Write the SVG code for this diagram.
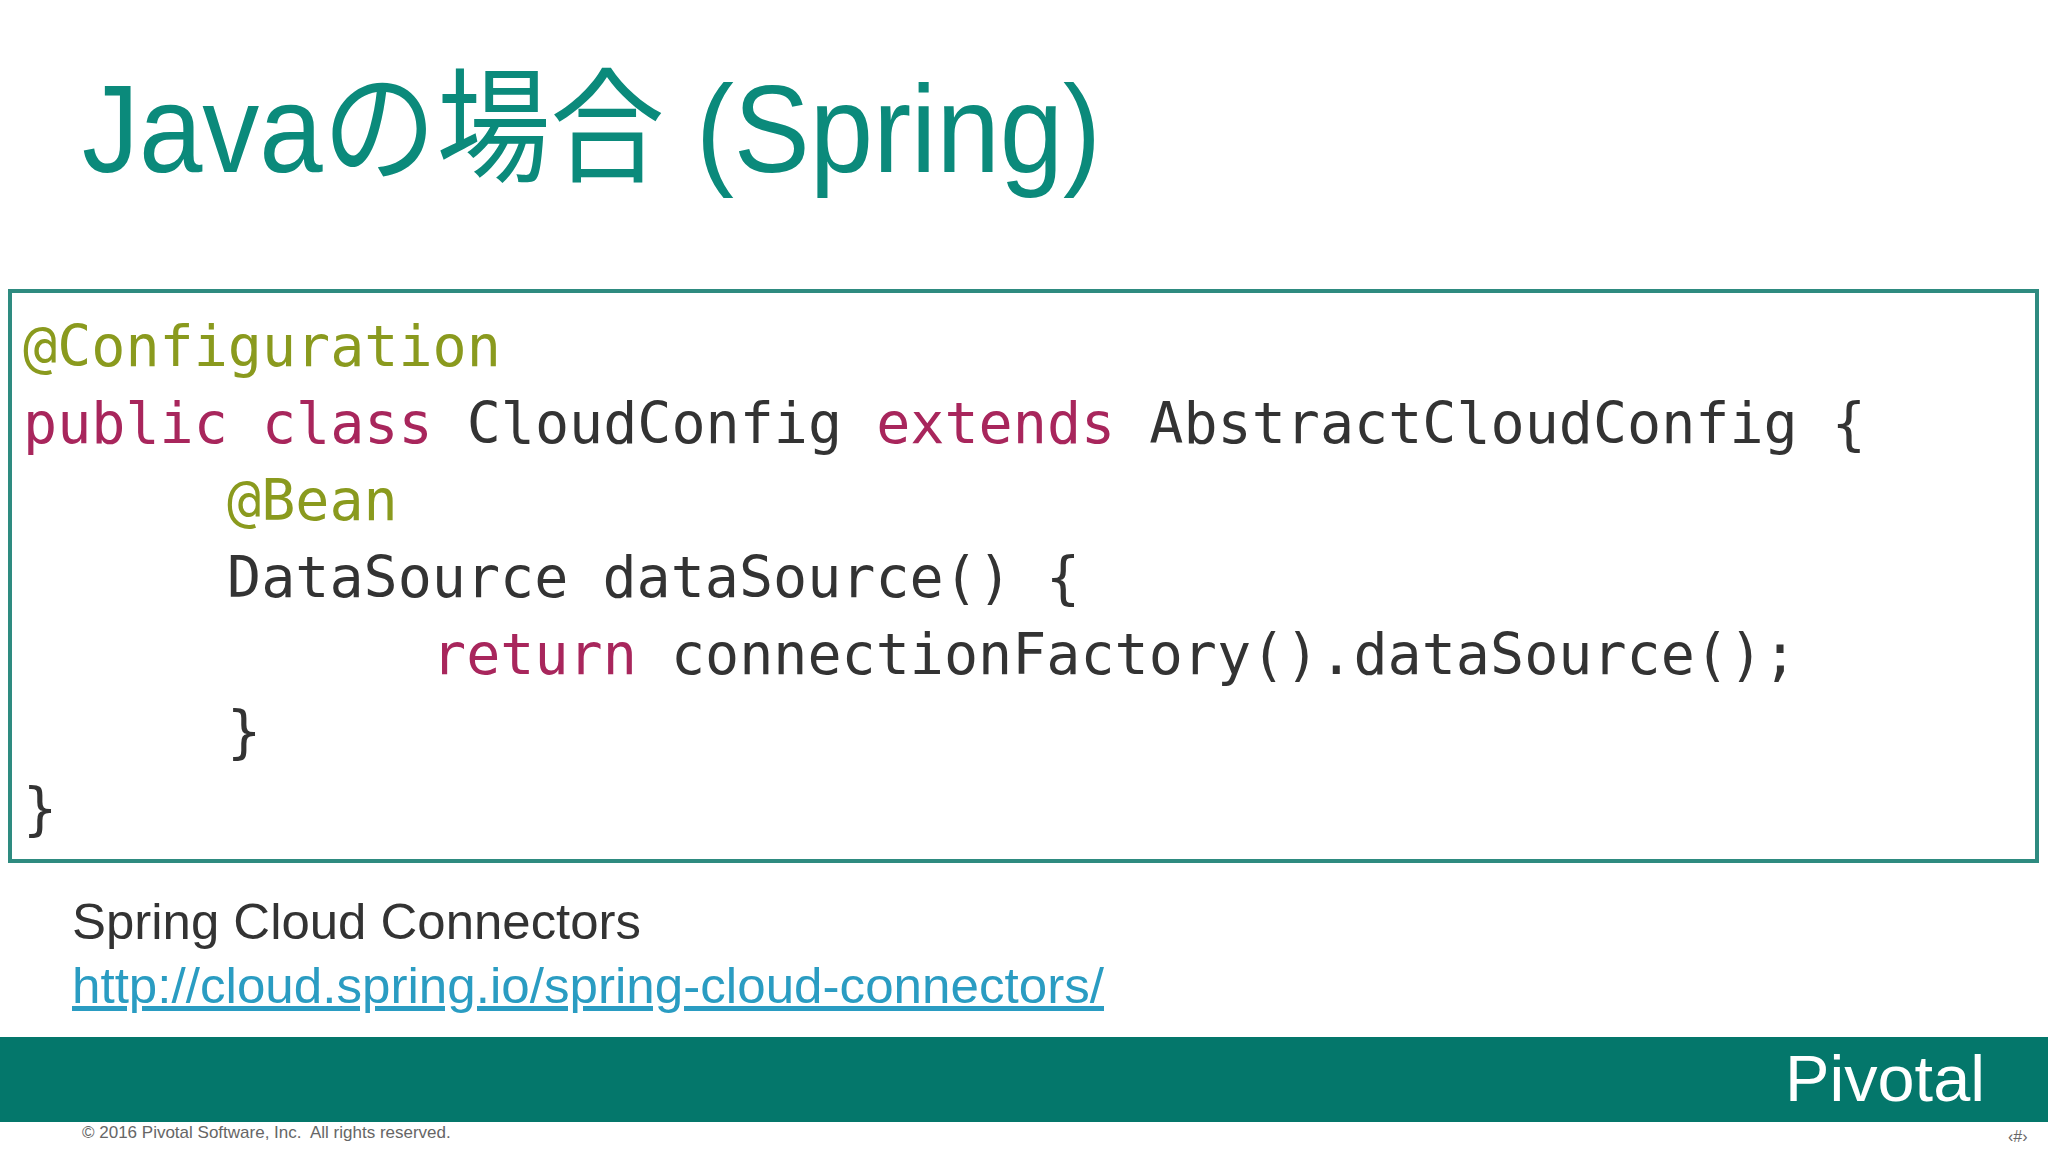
<svg xmlns="http://www.w3.org/2000/svg" width="2048" height="1152" viewBox="0 0 2048 1152">
<style>
.code{font-family:"DejaVu Sans Mono","Liberation Mono",monospace;font-size:56.7px;fill:#333333}
.ann{fill:#8a9a1e}
.kw{fill:#a8265c}
</style>
<rect width="2048" height="1152" fill="#ffffff"/>
<g id="title"><text x="82" y="172" font-family="'Liberation Sans','Noto Sans CJK JP',sans-serif" font-size="124" fill="#0b8a7b" textLength="1019" lengthAdjust="spacingAndGlyphs">Javaの場合 (Spring)</text></g>
<g id="codebox">
<rect x="10" y="291" width="2027" height="570" fill="#ffffff" stroke="#2e8b80" stroke-width="4"/>
<text class="code" x="23" y="366"><tspan class="ann">@Configuration</tspan></text>
<text class="code" x="23" y="443" xml:space="preserve"><tspan class="kw">public class</tspan> CloudConfig <tspan class="kw">extends</tspan> AbstractCloudConfig {</text>
<text class="code ann" x="227" y="520">@Bean</text>
<text class="code" x="227" y="597">DataSource dataSource() {</text>
<text class="code" x="432" y="674" xml:space="preserve"><tspan class="kw">return</tspan> connectionFactory().dataSource();</text>
<text class="code" x="227" y="751">}</text>
<text class="code" x="23" y="828">}</text>
</g>
<g id="links">
<text x="72" y="939" font-family="'Liberation Sans',sans-serif" font-size="50" fill="#333333" textLength="569" lengthAdjust="spacingAndGlyphs">Spring Cloud Connectors</text>
<text x="72" y="1003" font-family="'Liberation Sans',sans-serif" font-size="50" fill="#2a9cc2" text-decoration="underline" textLength="1032" lengthAdjust="spacingAndGlyphs">http://cloud.spring.io/spring-cloud-connectors/</text>
</g>
<g id="footer">
<rect x="0" y="1037" width="2048" height="85" fill="#04776b"/>
<text x="1785" y="1101" font-family="'Liberation Sans',sans-serif" font-size="64" fill="#ffffff" textLength="200" lengthAdjust="spacingAndGlyphs">Pivotal</text>
<text x="82" y="1138" font-family="'Liberation Sans',sans-serif" font-size="17" fill="#666666" xml:space="preserve">© 2016 Pivotal Software, Inc.  All rights reserved.</text>
<text x="2008" y="1142" font-family="'Liberation Sans',sans-serif" font-size="16" fill="#666666">‹#›</text>
</g>
</svg>
